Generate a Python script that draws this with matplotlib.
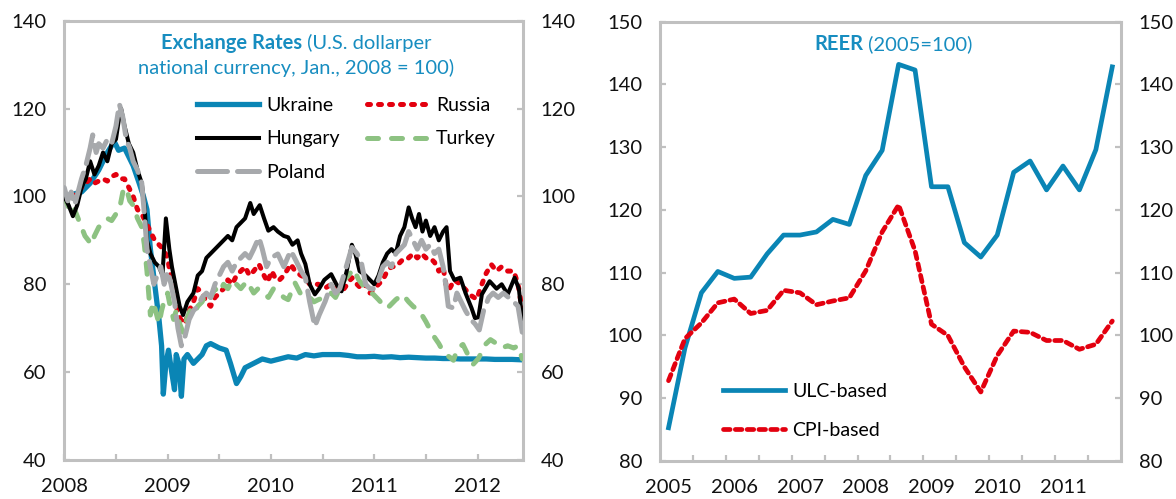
import numpy as np
import matplotlib
matplotlib.use("Agg")
import matplotlib.pyplot as plt
from matplotlib.ticker import MultipleLocator, FixedLocator, FuncFormatter
from matplotlib.offsetbox import TextArea, HPacker, VPacker, AnchoredOffsetbox

plt.rcParams['font.family'] = ['Lato', 'DejaVu Sans']

# ---------------- Left panel data: (months since Jan 2008, index Jan 2008 = 100)
ukraine = [(0, 100), (1, 100.5), (2, 101), (3, 103), (4, 106), (4.5, 108), (5, 110), (5.8, 112.5),
           (6.3, 110.5), (7, 111), (7.5, 109), (8, 107), (8.7, 103), (9.2, 100), (9.6, 97), (10, 88),
           (10.5, 80), (11, 72), (11.3, 66), (11.5, 55), (11.8, 62), (12.1, 65), (12.5, 59.7),
           (12.8, 56), (13.0, 64), (13.3, 62), (13.6, 54.5), (13.9, 63), (14.3, 64), (15, 62),
           (15.5, 63), (16, 64), (16.5, 66), (17, 66.5), (18, 65.5), (18.8, 65), (19.3, 62),
           (20.0, 57.4), (20.5, 59), (21, 61), (21.5, 61.5), (22, 62), (22.5, 62.5), (23, 63),
           (24, 62.5), (25, 63), (26, 63.5), (27, 63.2), (28, 64), (29, 63.7), (30, 64), (31, 64),
           (32, 64), (33, 63.8), (34, 63.5), (35, 63.5), (36, 63.6), (37, 63.4), (38, 63.5),
           (39, 63.3), (40, 63.4), (41, 63.3), (42, 63.2), (43, 63.2), (44, 63.1), (45, 63.1),
           (46, 63), (47, 63), (48, 63), (49, 63), (50, 62.9), (51, 62.9), (52, 62.9), (53.2, 62.8)]

hungary = [(0, 100), (0.5, 98), (1, 95.5), (1.5, 98), (2, 102), (2.5, 104), (3, 108), (3.5, 105),
           (4, 107), (4.5, 110), (5, 108), (5.5, 112), (6, 113), (6.3, 117), (6.6, 120), (7, 116),
           (7.5, 112), (8, 110), (8.5, 106), (9, 103), (9.3, 98), (9.6, 90), (10, 87), (10.5, 85),
           (11, 84), (11.4, 82), (11.8, 95), (12.2, 88), (12.5, 84), (13, 79), (13.4, 75),
           (13.8, 73), (14.3, 76), (15, 78), (15.5, 82), (16, 83), (16.5, 86), (17, 87), (17.5, 88),
           (18, 89), (18.5, 90), (19, 91), (19.5, 90), (20, 93), (20.5, 94), (21, 95), (21.6, 98.5),
           (22, 96), (22.7, 98), (23.2, 95), (23.7, 92.2), (24.3, 93), (24.8, 92), (25.5, 91),
           (26, 90.7), (26.5, 89), (27.1, 90), (27.5, 87), (28, 84.6), (28.5, 80), (29.1, 77.7),
           (29.6, 79), (30.2, 81), (31, 82.3), (31.6, 80), (32.2, 78.4), (32.8, 83), (33.4, 89),
           (33.8, 87), (34.3, 83), (35, 82), (35.5, 81), (36, 80), (36.5, 82), (37, 85),
           (37.5, 87), (38, 88), (38.5, 87), (39, 91), (39.5, 93), (40, 97.5), (40.4, 95),
           (40.8, 93), (41.2, 96), (41.6, 92), (42, 94.5), (42.5, 91), (43, 93), (43.5, 90),
           (44, 92), (44.4, 93), (44.8, 83), (45.3, 81), (46, 81.5), (46.6, 78), (47.3, 74.6),
           (47.7, 72.3), (48.1, 72.5), (48.5, 77.7), (49.4, 80.7), (50.2, 79), (50.8, 80),
           (51.5, 77.7), (52.3, 81.5), (52.8, 79), (53.2, 71.5)]

poland = [(0, 102), (0.4, 99), (0.8, 101), (1.2, 98), (1.6, 101), (2, 104), (2.5, 107), (3, 111),
          (3.3, 114), (3.7, 110), (4, 112), (4.5, 111), (5, 113), (5.5, 112), (6, 116), (6.4, 121),
          (6.8, 118), (7.2, 113), (7.6, 111), (8, 108), (8.5, 106), (9, 103), (9.3, 96), (9.6, 88),
          (10, 84), (10.4, 80), (10.8, 82), (11.2, 84), (11.6, 80), (12, 83), (12.4, 80),
          (12.8, 76), (13.2, 70), (13.6, 66), (14, 68), (14.5, 72), (15, 74), (15.5, 75), (16, 77),
          (16.5, 78), (17, 77), (17.5, 80), (18, 82), (18.5, 84), (19, 85), (19.5, 83), (20, 85),
          (20.5, 86), (21, 87), (21.5, 86), (22, 88), (22.6, 90.7), (23, 88), (23.5, 84), (24, 86),
          (24.8, 86.9), (25.5, 84), (26.3, 87.7), (27, 85), (27.5, 83), (28, 81.5), (28.5, 76),
          (29.1, 70.4), (29.6, 73), (30.3, 76.1), (31, 80), (31.5, 78), (32, 79), (32.6, 83),
          (33.4, 88.4), (34, 87), (34.5, 85), (35, 80), (35.5, 79), (36, 79), (36.5, 81), (37, 84),
          (37.5, 85), (38, 84), (38.5, 87), (39, 88), (39.5, 89), (40, 92), (40.5, 90), (41, 88),
          (41.5, 90), (42, 88), (42.5, 89), (43, 87), (43.5, 88), (44, 84), (44.3, 80), (44.6, 75),
          (45.2, 74.6), (45.6, 78), (46.1, 76), (46.6, 74), (47.2, 72), (47.7, 71), (48.2, 69.6),
          (48.7, 74), (49.3, 77), (49.8, 78), (50.4, 77), (51, 78), (51.6, 77), (52.2, 76),
          (52.7, 75), (53.2, 69)]

russia = [(0, 100), (0.5, 99), (1, 100), (1.5, 101), (2, 102), (2.5, 103), (3, 104), (3.5, 103),
          (4, 103.5), (4.5, 104), (5, 103.5), (5.5, 104.5), (6, 105), (6.5, 104), (7, 104),
          (7.5, 102), (8, 100), (8.5, 97), (9, 96), (9.5, 94), (10, 92), (10.5, 90), (11, 89),
          (11.5, 88), (12, 86), (12.5, 80), (13, 75), (13.5, 72), (14, 71), (14.5, 74), (15, 76),
          (15.5, 79), (16, 78), (16.5, 76), (17, 75), (17.5, 77), (18, 78), (18.5, 79), (19, 81),
          (19.5, 80), (20, 82), (20.5, 83), (21, 84), (21.5, 82), (22, 83), (22.6, 84.6),
          (23.2, 82), (23.6, 80.5), (24.1, 83), (24.6, 81), (25, 81), (25.5, 82), (26.3, 84.6),
          (26.8, 83), (27.5, 82), (28, 81.5), (28.5, 80), (29.5, 80), (30.2, 79), (31, 80),
          (31.8, 78.4), (32.5, 79), (33.4, 81.5), (34, 80), (34.5, 79), (35, 80), (35.5, 78),
          (36, 79), (36.5, 80), (37, 81), (37.5, 83), (38, 84), (38.5, 84), (39, 85), (39.5, 86),
          (40, 86), (40.5, 87), (41, 86), (41.5, 87), (42, 86), (42.5, 86), (43, 85), (43.5, 83),
          (44, 84), (44.4, 79), (44.8, 79.2), (45.3, 81), (46, 80), (46.5, 79), (47.2, 77.5),
          (47.9, 76.6), (48.5, 80), (49, 82.5), (49.6, 84.5), (50.2, 83), (50.8, 84), (51.5, 83),
          (52.2, 83), (52.7, 80), (53.2, 74)]

turkey = [(0, 100), (0.4, 98), (0.8, 96), (1.2, 97), (1.6, 95), (2, 93), (2.4, 91), (2.8, 90),
          (3.1, 89), (3.5, 91), (4, 93), (4.5, 94), (5, 95), (5.5, 94.5), (6, 96), (6.4, 97),
          (6.8, 101), (7.2, 102), (7.6, 99), (8, 98), (8.5, 95), (9, 93), (9.3, 89), (9.6, 83),
          (9.8, 78), (10, 73), (10.3, 76), (10.6, 74), (11, 71), (11.3, 74), (11.7, 77), (12, 78),
          (12.3, 75), (12.7, 72), (13, 74), (13.4, 71), (13.8, 69), (14.2, 72), (14.6, 74),
          (15, 73), (15.5, 75), (16, 76), (16.5, 78), (17, 77), (17.5, 79), (18, 78), (18.5, 80),
          (19, 79), (19.5, 81), (20, 80), (20.5, 79), (21.2, 80.7), (22, 78), (22.5, 79),
          (23.2, 78), (23.7, 77), (24.3, 79), (24.8, 78.4), (25.5, 77), (26, 76.5), (26.8, 80.3),
          (27.4, 78), (28, 78), (28.5, 77), (29, 76), (29.5, 76.5), (30.2, 77), (31, 78),
          (31.5, 77), (32.4, 80.7), (33, 82), (33.6, 83.5), (34.2, 81), (35, 79), (35.9, 77.7),
          (36.5, 76.5), (37, 75.4), (37.5, 74.5), (38, 75.5), (38.5, 76.5), (39.3, 77.7),
          (40, 76), (40.5, 75), (41.3, 73.8), (42, 71.5), (42.8, 68.5), (43.5, 66.5), (44, 64.7),
          (44.5, 63.8), (45.2, 62.7), (45.7, 65.5), (46.3, 66.3), (46.9, 63.9), (47.5, 61.8),
          (48.1, 63.1), (48.9, 66.3), (49.5, 67.4), (50.2, 66.5), (50.8, 65.5), (51.5, 66),
          (52.2, 65.5), (52.7, 66), (53.2, 63)]

# ---------------- Right panel data (quarterly, 2005Q1 - 2011Q4, 2005 = 100)
reer_years = ['2005', '2006', '2007', '2008', '2009', '2010', '2011']
ulc_based = [85.3, 98.0, 106.8, 110.2, 109.1, 109.3, 113.0, 116.0, 116.0, 116.5, 118.5, 117.7,
             125.5, 129.5, 143.2, 142.3, 123.7, 123.7, 114.8, 112.5, 116.0, 126.0, 127.8, 123.2,
             127.0, 123.2, 129.6, 142.8]
cpi_based = [92.8, 99.5, 102.0, 105.2, 105.8, 103.5, 104.0, 107.2, 106.8, 104.9, 105.5, 106.0,
             110.3, 116.5, 120.8, 113.5, 101.8, 100.0, 95.0, 91.0, 96.8, 100.7, 100.5, 99.2,
             99.2, 97.8, 98.6, 102.3]

BLUE = '#0a85b5'
RED = '#e3000f'
GREEN = '#8dc282'
GRAY = '#a7a9ac'
FRAME = '#c0c0c0'
TITLE = '#178dc0'

W, H = 1176, 499
fig = plt.figure(figsize=(W / 100, H / 100), dpi=100)


def frac_axes(l, t, r, b):
    return fig.add_axes([l / W, 1 - b / H, (r - l) / W, (b - t) / H])


axL = frac_axes(64.3, 20.7, 522.5, 460)
axR = frac_axes(660.3, 21.7, 1120.5, 461)


def style(ax):
    for s in ax.spines.values():
        s.set_color(FRAME)
        s.set_linewidth(2.2)
    ax.tick_params(axis='both', which='both', direction='in', length=4.5, width=1.6,
                   color=FRAME, labelsize=14.5, pad=13, labelcolor='#111111')
    ax.tick_params(axis='y', which='both', left=True, right=True, labelleft=True, labelright=True)
    ax.tick_params(axis='x', which='both', top=False)


def series(pairs):
    m = np.array([p[0] for p in pairs], dtype=float)
    v = np.array([p[1] for p in pairs], dtype=float)
    return 2008 + m / 12.0, v


# ---------------- Left panel
hU, = axL.plot(*series(ukraine), color=BLUE, lw=3.8, solid_joinstyle='round', label='Ukraine', zorder=2)
hR, = axL.plot(*series(russia), color=RED, lw=3.6, dash_capstyle='round',
               linestyle=(0, (0.6, 1.6)), label='Russia', zorder=3)
hT, = axL.plot(*series(turkey), color=GREEN, lw=3.6, dash_capstyle='round',
               linestyle=(0, (2.2, 2.6)), label='Turkey', zorder=3)
hH, = axL.plot(*series(hungary), color='black', lw=2.9, solid_joinstyle='round', label='Hungary', zorder=4)
hP, = axL.plot(*series(poland), color=GRAY, lw=3.6, dash_capstyle='round',
               linestyle=(0, (6, 2)), label='Poland', zorder=5)

style(axL)
axL.set_xlim(2008, 2012.435)
axL.set_ylim(40, 140)
axL.yaxis.set_major_locator(MultipleLocator(20))
axL.xaxis.set_major_locator(MultipleLocator(1))
axL.xaxis.set_minor_locator(MultipleLocator(0.5))
axL.xaxis.set_major_formatter(FuncFormatter(lambda v, p: f"{int(round(v))}"))

axL.legend(handles=[hU, hH, hP, hR, hT], loc='upper left', bbox_to_anchor=(0.29, 0.827),
           ncol=2, frameon=False, handlelength=3.2, handletextpad=0.35, columnspacing=1.4,
           labelspacing=0.86, borderpad=0, borderaxespad=0, fontsize=14)


def title_box(ax, bold, rest, line2, x, y):
    l1 = HPacker(children=[TextArea(bold, textprops=dict(color=TITLE, fontsize=14.5, fontweight='bold')),
                           TextArea(rest, textprops=dict(color=TITLE, fontsize=14.5))],
                 align='baseline', pad=0, sep=0)
    children = [l1]
    if line2:
        children.append(TextArea(line2, textprops=dict(color=TITLE, fontsize=14.5)))
    box = VPacker(children=children, align='center', pad=0, sep=4)
    ab = AnchoredOffsetbox(loc='upper center', child=box, pad=0, borderpad=0, frameon=False,
                           bbox_to_anchor=(x, y), bbox_transform=ax.transAxes)
    ax.add_artist(ab)


title_box(axL, 'Exchange Rates', ' (U.S. dollarper', 'national currency, Jan., 2008 = 100)', 0.506, 0.972)

# ---------------- Right panel
xq = np.arange(len(ulc_based))
hULC, = axR.plot(xq, ulc_based, color=BLUE, lw=3.4, solid_joinstyle='round', label='ULC-based')
hCPI, = axR.plot(xq, cpi_based, color=RED, lw=3.4, dash_capstyle='round',
                 linestyle=(0, (1.4, 1.1)), label='CPI-based')
style(axR)
axR.set_xlim(-0.5, len(ulc_based) - 0.5)
axR.set_ylim(80, 150)
axR.yaxis.set_major_locator(MultipleLocator(10))
axR.xaxis.set_major_locator(FixedLocator(np.arange(1.5, 26, 2)))
axR.xaxis.set_minor_locator(FixedLocator(np.arange(0, len(ulc_based), 4)))
axR.xaxis.set_major_formatter(FuncFormatter(lambda v, p: ''))
axR.xaxis.set_minor_formatter(FuncFormatter(lambda v, p: reer_years[int(round(v)) // 4]))
axR.tick_params(axis='x', which='minor', length=0)
axR.tick_params(axis='y', which='minor', left=False, right=False)

axR.legend(handles=[hULC, hCPI], loc='upper left', bbox_to_anchor=(0.136, 0.178),
           frameon=False, handlelength=3.2, handletextpad=0.35, labelspacing=1.14,
           borderpad=0, borderaxespad=0, fontsize=14)

title_box(axR, 'REER', ' (2005=100)', None, 0.506, 0.972)

fig.savefig('out.png', dpi=100)
